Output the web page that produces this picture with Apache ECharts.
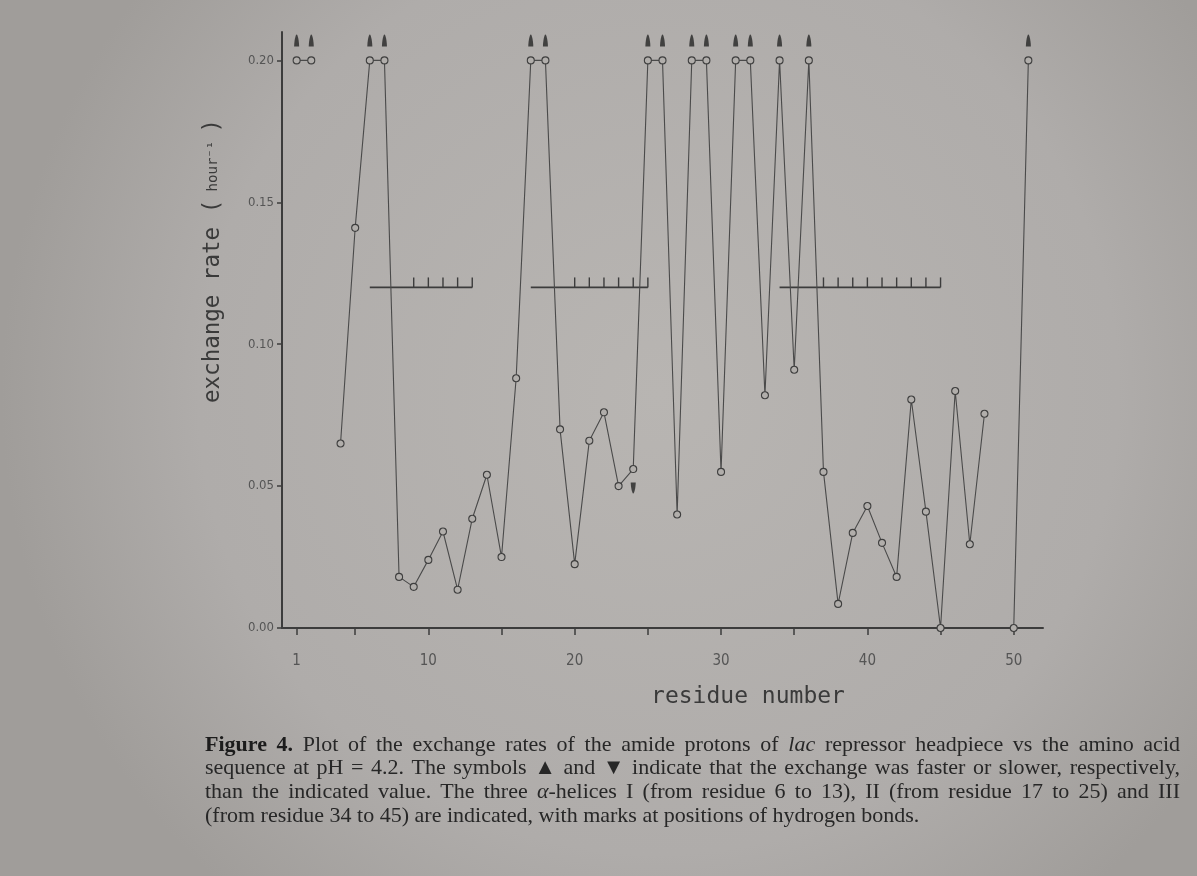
<!DOCTYPE html>
<html>
<head>
<meta charset="utf-8">
<script src="https://cdn.jsdelivr.net/npm/echarts@6/dist/echarts.min.js"></script>
<style>
html,body{margin:0;padding:0;width:1197px;height:876px;overflow:hidden;background:#aeaba8;}
#chart{width:1197px;height:876px;}
</style>
</head>
<body>
<div id="chart"></div>
<script>
// ---- data ----
const residues = [1,2,3,4,5,6,7,8,9,10,11,12,13,14,15,16,17,18,19,20,21,22,23,24,25,26,27,28,29,30,31,32,33,34,35,36,37,38,39,40,41,42,43,44,45,46,47,48,49,50,51];
const exchangeRate = [0.20,0.20,null,0.065,0.141,0.20,0.20,0.018,0.0145,0.024,0.034,0.0135,0.0385,0.054,0.025,0.088,0.20,0.20,0.070,0.0225,0.066,0.076,0.050,0.056,0.20,0.20,0.040,0.20,0.20,0.055,0.20,0.20,0.082,0.20,0.091,0.20,0.055,0.0085,0.0335,0.043,0.030,0.018,0.0805,0.041,0.0,0.0835,0.0295,0.0755,null,0.0,0.20];
const fasterResidues = [1,2,6,7,17,18,25,26,28,29,31,32,34,36,51];
const slowerResidues = [24];
const helixNames = ['I','II','III'];
const helixStart = [6,17,34];
const helixEnd = [13,25,45];
const hbondFirst = [9,20,37];
const helixLevel = 0.12;
const xTickValues = [1,5,10,15,20,25,30,35,40,45,50];
const xLabelValues = [1,10,20,30,40,50];
const yTickValues = [0,0.05,0.10,0.15,0.20];
const captionLines = [
  '{b|Figure 4.}  Plot of the exchange rates of the amide protons of {i|lac} repressor headpiece vs the amino acid',
  'sequence at pH = 4.2. The symbols ▲ and ▼ indicate that the exchange was faster or slower, respectively,',
  'than the indicated value. The three {i|α}-helices I (from residue 6 to 13), II (from residue 17 to 25) and III',
  '(from residue 34 to 45) are indicated, with marks at positions of hydrogen bonds.'
];

// ---- chart ----
const ink = '#3c3c3c';
const paper = '#b1aeab';
const lineData = residues.map((r,i)=>[r, exchangeRate[i]===null ? '-' : exchangeRate[i]]);
const valueAt = r => exchangeRate[residues.indexOf(r)];
const helixData = helixNames.map((n,i)=>[helixStart[i], helixEnd[i], hbondFirst[i]]);

// caption layout (justified like the printed page)
const capSize = 22;
const capFonts = {
  n: `${capSize}px "Liberation Serif", serif`,
  b: `bold ${capSize}px "Liberation Serif", serif`,
  i: `italic ${capSize}px "Liberation Serif", serif`
};
const capRich = {
  n:{fontFamily:'Liberation Serif', fontSize:capSize, fill:'#272727'},
  b:{fontFamily:'Liberation Serif', fontSize:capSize, fontWeight:'bold', fill:'#1c1c1c'},
  i:{fontFamily:'Liberation Serif', fontSize:capSize, fontStyle:'italic', fill:'#272727'}
};
const mctx = document.createElement('canvas').getContext('2d');
function measure(t, st){ mctx.font = capFonts[st]; return mctx.measureText(t).width; }
function lineWords(line){
  const segs=[]; const re=/\{(\w)\|([^}]*)\}|([^{]+)/g; let m;
  while((m=re.exec(line))){ if(m[1]) segs.push({st:m[1],t:m[2]}); else segs.push({st:'n',t:m[3]}); }
  const words=[[]];
  segs.forEach(sg=>{ sg.t.split(' ').forEach((p,k)=>{ if(k>0) words.push([]); if(p) words[words.length-1].push({st:sg.st,t:p}); }); });
  return words.filter(w=>w.length);
}
const capLeft = 205, capRight = 1180, capTop = 745, capStep = 23.6;
const captionGraphics = [];
captionLines.forEach((line, li)=>{
  const words = lineWords(line);
  const widths = words.map(w=>w.reduce((s,sg)=>s+measure(sg.t, sg.st),0));
  const total = widths.reduce((a,b)=>a+b,0);
  const justify = li < captionLines.length-1;
  const gap = justify ? (capRight-capLeft-total)/(words.length-1) : measure(' ','n');
  let x = capLeft;
  words.forEach((w,k)=>{
    captionGraphics.push({type:'text', x:x, y:capTop + li*capStep,
      style:{text:w.map(sg=>`{${sg.st}|${sg.t}}`).join(''), rich:capRich, verticalAlign:'middle', align:'left'}});
    x += widths[k] + gap;
  });
});

const chart = echarts.init(document.getElementById('chart'), null, {renderer:'canvas'});
chart.setOption({
  backgroundColor:{
    type:'radial', x:0.55, y:0.45, r:0.75,
    colorStops:[{offset:0,color:'#b8b5b2'},{offset:0.7,color:'#afacaa'},{offset:1,color:'#a09d9a'}]
  },
  animation:false,
  grid:{left:282, top:32, width:761, height:596, containLabel:false},
  xAxis:{
    type:'value', min:0, max:52,
    axisLine:{lineStyle:{color:ink, width:2}},
    axisTick:{show:true, customValues:xTickValues, length:7, lineStyle:{color:ink, width:1.5}},
    axisLabel:{customValues:xLabelValues, margin:26, color:'#555', fontSize:15,
      fontFamily:'"Liberation Sans Narrow","DejaVu Sans Condensed",sans-serif'},
    splitLine:{show:false}
  },
  yAxis:{
    type:'value', min:0, max:0.21,
    axisLine:{show:true, lineStyle:{color:ink, width:2}},
    axisTick:{show:true, customValues:yTickValues, length:5, lineStyle:{color:ink, width:1.5}},
    axisLabel:{customValues:yTickValues, margin:8, color:'#555', fontSize:13,
      fontFamily:'"DejaVu Sans Condensed","Liberation Sans Narrow",sans-serif',
      formatter:v=>v.toFixed(2)},
    splitLine:{show:false}
  },
  graphic:[
    {type:'text', x:213, y:403, rotation:Math.PI/2,
      style:{text:'{a|exchange rate (}{s| hour}{s|⁻¹}{s| }{a|)}', align:'left', verticalAlign:'middle',
        rich:{
          a:{fontSize:22.5, fontFamily:'DejaVu Sans Mono', fill:'#3a3a3a'},
          s:{fontSize:14, fontFamily:'DejaVu Sans Mono', fill:'#3a3a3a'}
        }}},
    {type:'text', x:748, y:697,
      style:{text:'residue number', fill:'#3a3a3a', font:'23px "DejaVu Sans Mono", monospace',
        align:'center', verticalAlign:'middle'}}
  ].concat(captionGraphics),
  series:[
    {
      type:'line', data:lineData, connectNulls:false,
      symbol:'circle', symbolSize:7,
      lineStyle:{color:'#4a4a4a', width:1.1},
      itemStyle:{color:paper, borderColor:'#3e3e3e', borderWidth:1.1},
      z:3
    },
    {
      type:'scatter', data:fasterResidues.map(r=>[r, valueAt(r)]),
      symbol:'path://M2,0 C3,0 4,7 4,11 L0,11 C0,7 1,0 2,0 Z', symbolSize:[5,12], symbolOffset:[0,-20],
      itemStyle:{color:'#262626'}, z:4
    },
    {
      type:'scatter', data:slowerResidues.map(r=>[r, valueAt(r)]),
      symbol:'path://M0,0 L4,0 C4,4 3,11 2,11 C1,11 0,4 0,0 Z', symbolSize:[5,11], symbolOffset:[0,19],
      itemStyle:{color:'#262626'}, z:4
    },
    {
      type:'custom', data:helixData, z:2,
      renderItem:(params, api)=>{
        const s = api.value(0), e = api.value(1), h = api.value(2);
        const p0 = api.coord([s, helixLevel]);
        const p1 = api.coord([e, helixLevel]);
        const children = [{type:'line', shape:{x1:p0[0], y1:p0[1], x2:p1[0], y2:p1[1]},
          style:{stroke:ink, lineWidth:1.8}}];
        for (let r=h; r<=e; r++){
          const p = api.coord([r, helixLevel]);
          children.push({type:'line', shape:{x1:p[0], y1:p[1], x2:p[0], y2:p[1]-10},
            style:{stroke:ink, lineWidth:1.4}});
        }
        return {type:'group', children};
      }
    }
  ]
});
</script>
</body>
</html>
